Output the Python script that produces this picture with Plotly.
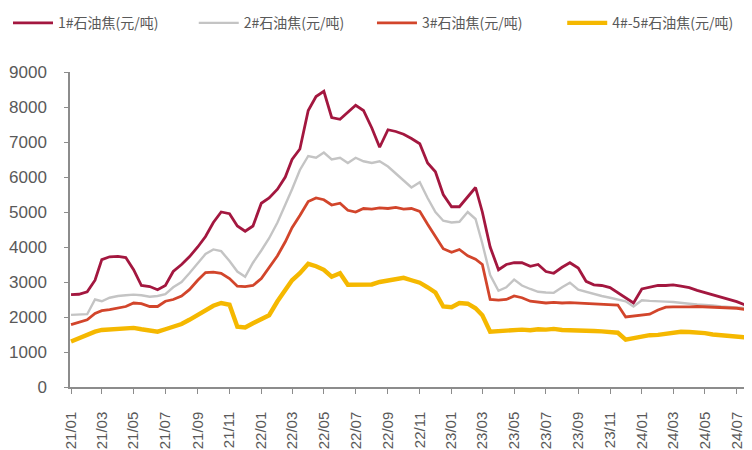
import plotly.graph_objects as go

# semi-monthly dates (1st and 16th) from 2021-01-01 to 2024-08-01
dates = []
for y in range(2021, 2025):
    for m in range(1, 13):
        for d in (1, 16):
            if (y, m, d) <= (2024, 8, 1):
                dates.append(f"{y}-{m:02d}-{d:02d}")

coke_1 = [2640, 2650, 2720, 3050, 3640, 3720, 3730, 3700, 3350, 2900,
          2870, 2780, 2900, 3300, 3500, 3720, 4000, 4300, 4700, 5000,
          4950, 4600, 4450, 4600, 5250, 5400, 5650, 6000, 6500, 6800,
          7900, 8300, 8450, 7700, 7650, 7850, 8050, 7900, 7400, 6850,
          7350, 7300, 7220, 7100, 6950, 6400, 6150, 5500, 5150, 5150,
          5450, 5700, 5000, 4000, 3350, 3500, 3550, 3550, 3450, 3500,
          3300, 3250, 3420, 3550, 3400, 3020, 2920, 2900, 2840, 2700,
          2550, 2400, 2800, 2850, 2900, 2900, 2920, 2880, 2840, 2760,
          2700, 2640, 2560, 2500, 2440, 2350, 2150]
coke_2 = [2060, 2060, 2080, 2500, 2450, 2550, 2600, 2620, 2640, 2620,
          2580, 2600, 2650, 2850, 3000, 3250, 3550, 3800, 3930, 3880,
          3600, 3300, 3150, 3550, 3900, 4250, 4700, 5200, 5650, 6200,
          6600, 6550, 6700, 6500, 6550, 6400, 6550, 6450, 6400, 6450,
          6300, 6100, 5900, 5700, 5850, 5400, 5000, 4750, 4700, 4720,
          5000, 4800, 4100, 3200, 2750, 2850, 3070, 2900, 2800, 2720,
          2700, 2690, 2850, 2980, 2780, 2720, 2650, 2600, 2550, 2500,
          2450, 2300, 2480, 2460, 2440, 2440, 2430, 2400, 2380, 2360,
          2350, 2330, 2300, 2280, 2270, 2260, 2150]
coke_3 = [1780, 1850, 1920, 2100, 2180, 2210, 2250, 2300, 2400, 2380,
          2300, 2300, 2450, 2500, 2600, 2780, 3050, 3270, 3280, 3250,
          3100, 2880, 2870, 2900, 3100, 3400, 3750, 4150, 4550, 4900,
          5300, 5400, 5350, 5200, 5250, 5050, 5000, 5100, 5080, 5120,
          5100, 5130, 5080, 5100, 5020, 4650, 4300, 3950, 3850, 3930,
          3750, 3650, 3500, 2500, 2480, 2500, 2600, 2550, 2450, 2420,
          2400, 2420, 2400, 2410, 2400, 2380, 2370, 2360, 2350, 2340,
          2000, 2020, 2050, 2080, 2200, 2280, 2290, 2280, 2290, 2300,
          2290, 2280, 2290, 2270, 2250, 2220, 2100]
coke_45 = [1300, 1400, 1500, 1580, 1630, 1650, 1660, 1680, 1690, 1650,
           1620, 1580, 1650, 1720, 1800, 1920, 2050, 2200, 2320, 2400,
           2350, 1720, 1700, 1820, 1950, 2050, 2450, 2800, 3050, 3250,
           3520, 3450, 3350, 3150, 3250, 2920, 2920, 2950, 2930, 3000,
           3050, 3100, 3120, 3050, 2980, 2850, 2700, 2300, 2280, 2400,
           2380, 2250, 2050, 1580, 1600, 1620, 1650, 1640, 1620, 1650,
           1640, 1660, 1630, 1630, 1620, 1610, 1600, 1590, 1580, 1550,
           1350, 1400, 1450, 1480, 1490, 1520, 1560, 1580, 1570, 1560,
           1540, 1500, 1480, 1460, 1450, 1430, 1400]

series_names = ["1#石油焦(元/吨)", "2#石油焦(元/吨)", "3#石油焦(元/吨)", "4#-5#石油焦(元/吨)"]
series_colors = ["#A3173F", "#C4C4C4", "#D2452B", "#F5B800"]
series_widths = [2.8, 2.4, 2.8, 4.4]

tick_vals = []
tick_text = []
for y in range(2021, 2025):
    for m in range(1, 13, 2):
        if (y, m) <= (2024, 7):
            tick_vals.append(f"{y}-{m:02d}-01")
            tick_text.append(f"{y % 100:02d}/{m:02d}")

legend_ids = ["legend", "legend2", "legend3", "legend4"]
legend_x = [0.0, 0.247, 0.484, 0.737]

fig = go.Figure()
for name, vals, col, w, lid in zip(series_names, [coke_1, coke_2, coke_3, coke_45],
                                   series_colors, series_widths, legend_ids):
    fig.add_trace(go.Scatter(x=dates, y=vals, name=name, mode="lines",
                             line=dict(color=col, width=w), legend=lid))

legend_font = dict(family="Noto Sans CJK SC", size=14, color="#595959")
layout_legends = {}
for lid, lx in zip(legend_ids, legend_x):
    layout_legends[lid] = dict(orientation="h", xref="container", yref="container",
                               x=lx, y=0.966, xanchor="left", yanchor="middle",
                               font=legend_font, itemwidth=40,
                               bgcolor="rgba(0,0,0,0)")

fig.update_layout(
    width=752, height=450,
    margin=dict(l=62, r=4, t=64, b=71, autoexpand=False),
    plot_bgcolor="white", paper_bgcolor="white",
    font=dict(family="Liberation Sans, Arial, sans-serif", size=15, color="#595959"),
    showlegend=True,
    **layout_legends,
)
fig.update_xaxes(type="date", range=["2020-12-30", "2024-08-07"],
                 tickmode="array", tickvals=tick_vals, ticktext=tick_text,
                 tickangle=-90, showgrid=False, zeroline=False,
                 showline=True, linecolor="#8C8C8C", linewidth=1.5,
                 ticks="outside", ticklen=5, tickcolor="#8C8C8C",
                 ticklabelstandoff=12,
                 tickfont=dict(size=15, color="#595959"))
fig.update_yaxes(range=[0, 9000], dtick=1000, showgrid=False, zeroline=False,
                 showline=True, linecolor="#8C8C8C", linewidth=1.5,
                 ticks="outside", ticklen=4, tickcolor="#8C8C8C",
                 ticklabelstandoff=14,
                 tickfont=dict(size=17, color="#595959"))

fig.write_html("out.html")
